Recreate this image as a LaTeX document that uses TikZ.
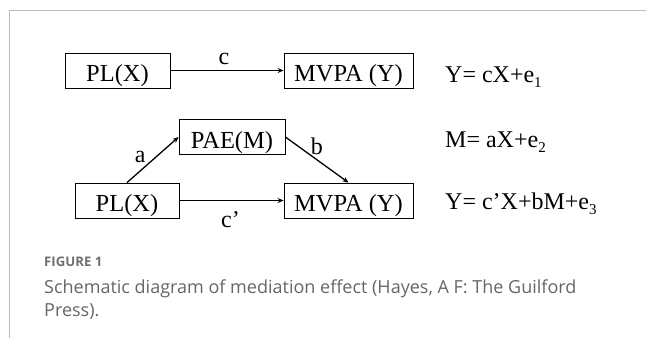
\documentclass[tikz,border=0pt]{standalone}
\usepackage{fontspec}
\setmainfont{Liberation Serif}
\newfontfamily\capfont{Open Sans}
\usetikzlibrary{arrows.meta}
\definecolor{framegray}{HTML}{BBBBBB}
\definecolor{capgray}{HTML}{666666}
\definecolor{figgray}{HTML}{6E6E6E}
\newcommand\eqsub[1]{\raisebox{-5bp}{\fontsize{15bp}{15bp}\selectfont #1}}
\begin{document}
\begin{tikzpicture}[x=1bp,y=-1bp,
  varbox/.style={draw=black, line width=0.8bp, inner sep=0pt, minimum height=35bp,
    text height=22bp, text depth=0pt, font=\fontsize{24.5bp}{28bp}\selectfont},
  conn/.style={line width=1.3bp, -{Stealth[length=6bp,width=5bp]}},
  lbl/.style={font=\fontsize{24bp}{28bp}\selectfont, inner sep=0pt},
  eqn/.style={anchor=base west, inner sep=0pt, font=\fontsize{24bp}{28bp}\selectfont}]
\useasboundingbox (0,0) rectangle (646,338);
% frame
\draw[framegray, line width=1bp] (9,338) -- (9,10) -- (646,10);
% top model
\node[varbox, minimum width=105bp] (pl1) at (117.5,70.5) {PL(X)};
\node[varbox, minimum width=129bp] (mv1) at (348.5,70.5) {MVPA (Y)};
\draw[conn] (pl1) -- node[lbl, yshift=12bp, xshift=-3bp] {c} (mv1);
\node[eqn] (eq1) at (445,82) {Y= cX+e\eqsub{1}};
% mediation model
\node[varbox, minimum width=106bp] (pae) at (232,137) {PAE(M)};
\node[varbox, minimum width=104bp] (pl2) at (127,200.5) {PL(X)};
\node[varbox, minimum width=129bp] (mv2) at (348.5,200.5) {MVPA (Y)};
\draw[conn] (pl2.north) -- node[lbl, anchor=east, xshift=-6.5bp, yshift=3bp] {a} (pae.west);
\draw[conn] (pae.east) -- node[lbl, yshift=14bp] {b} (mv2.north);
\draw[conn] (pl2) -- node[lbl, yshift=-19bp, xshift=-1bp] {c’} (mv2);
\node[eqn] (eq2) at (445,147) {M= aX+e\eqsub{2}};
\node[eqn] (eq3) at (445,209) {Y= c’X+bM+e\eqsub{3}};
% caption
\node[anchor=base west, inner sep=0pt, text=figgray, font=\capfont\bfseries\fontsize{13.2bp}{15bp}\selectfont] (fig) at (44,266) {FIGURE 1};
\node[anchor=base west, inner sep=0pt, text=capgray, align=left,
  font=\capfont\fontsize{18bp}{23bp}\selectfont] (cap) at (44,316)
  {Schematic diagram of mediation effect (Hayes, A F: The Guilford\\Press).};
\end{tikzpicture}
\end{document}
